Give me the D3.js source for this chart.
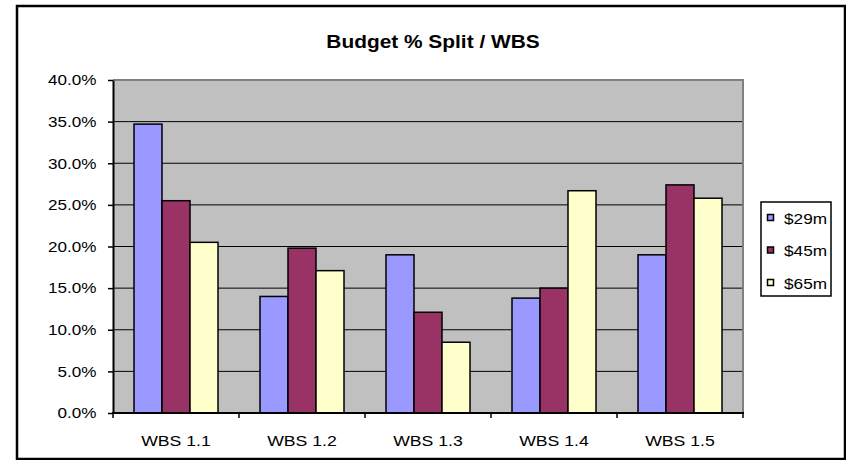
<!DOCTYPE html>
<html>
<head>
<meta charset="utf-8">
<script src="https://cdn.jsdelivr.net/npm/d3@7"></script>
<style>
  body { margin: 0; background: #fff; }
  text { font-family: "Liberation Sans", Arial, sans-serif; fill: #000; }
</style>
</head>
<body>
<svg width="846" height="460"></svg>
<script>
var categories = ["WBS 1.1", "WBS 1.2", "WBS 1.3", "WBS 1.4", "WBS 1.5"];
var seriesNames = ["$29m", "$45m", "$65m"];
var seriesColors = ["#9999ff", "#993366", "#ffffcc"];
var values29 = [0.347, 0.140, 0.190, 0.138, 0.190];
var values45 = [0.255, 0.198, 0.121, 0.150, 0.274];
var values65 = [0.205, 0.171, 0.085, 0.267, 0.258];
var yTicks = [0, 0.05, 0.1, 0.15, 0.2, 0.25, 0.3, 0.35, 0.4];

var allValues = [values29, values45, values65];
var sx = 1.14; // text in the original is stretched sideways

var svg = d3.select("svg");

var plot = { left: 113, top: 80, right: 743, bottom: 413 };

// outer frame
svg.append("rect")
    .attr("x", 17).attr("y", 6)
    .attr("width", 828).attr("height", 453)
    .attr("fill", "#fff")
    .attr("stroke", "#000")
    .attr("stroke-width", 2.5);

var x = d3.scaleBand()
    .domain(categories)
    .range([plot.left, plot.right])
    .paddingInner(0).paddingOuter(0);

var xInner = d3.scaleBand()
    .domain(seriesNames)
    .range([0, x.bandwidth()])
    .paddingInner(0).paddingOuter(0.75);

var y = d3.scaleLinear()
    .domain([0, 0.4])
    .range([plot.bottom, plot.top]);

// plot background
svg.append("rect")
    .attr("x", plot.left).attr("y", plot.top)
    .attr("width", plot.right - plot.left)
    .attr("height", plot.bottom - plot.top)
    .attr("fill", "#c0c0c0");

// gridlines
svg.append("g")
  .selectAll("line")
  .data(yTicks.filter(function(d) { return d > 0 && d < 0.4; }))
  .enter().append("line")
    .attr("x1", plot.left).attr("x2", plot.right)
    .attr("y1", function(d) { return y(d); })
    .attr("y2", function(d) { return y(d); })
    .attr("stroke", "#000")
    .attr("stroke-width", 1);

// top and right border of the plot area
svg.append("path")
    .attr("d", "M" + plot.left + "," + plot.top + "H" + plot.right + "V" + plot.bottom)
    .attr("fill", "none")
    .attr("stroke", "#808080")
    .attr("stroke-width", 2);

// bars
var rows = [];
categories.forEach(function(c, i) {
  seriesNames.forEach(function(s, j) {
    rows.push({ cat: c, series: s, color: seriesColors[j], value: allValues[j][i] });
  });
});

svg.append("g")
  .selectAll("rect")
  .data(rows)
  .enter().append("rect")
    .attr("x", function(d) { return x(d.cat) + xInner(d.series); })
    .attr("y", function(d) { return y(d.value); })
    .attr("width", xInner.bandwidth())
    .attr("height", function(d) { return y(0) - y(d.value); })
    .attr("fill", function(d) { return d.color; })
    .attr("stroke", "#000")
    .attr("stroke-width", 1.5);

// y axis
var yAxis = svg.append("g")
    .attr("transform", "translate(" + plot.left + ",0)")
    .call(d3.axisLeft(y)
        .tickValues(yTicks)
        .tickFormat(d3.format(".1%"))
        .tickSize(5)
        .tickSizeOuter(0)
        .tickPadding(9.5));
yAxis.select(".domain").attr("stroke", "#000").attr("stroke-width", 2);
yAxis.selectAll(".tick line").attr("stroke", "#000").attr("stroke-width", 1.5);
yAxis.selectAll(".tick text")
    .attr("font-family", "Liberation Sans, Arial, sans-serif")
    .attr("font-size", 15)
    .attr("fill", "#000")
    .attr("transform", "scale(" + sx + ",1)");

// x axis: labels centred, ticks on category boundaries
var xAxis = svg.append("g")
    .attr("transform", "translate(0," + plot.bottom + ")")
    .call(d3.axisBottom(x)
        .tickSize(0)
        .tickSizeOuter(0)
        .tickPadding(33));
xAxis.select(".domain").remove();
xAxis.selectAll(".tick text")
    .attr("font-family", "Liberation Sans, Arial, sans-serif")
    .attr("font-size", 15.5)
    .attr("fill", "#000")
    .attr("dy", 0)
    .attr("transform", "scale(" + sx + ",1)");

svg.append("line")
    .attr("x1", plot.left - 1).attr("x2", plot.right + 1)
    .attr("y1", plot.bottom).attr("y2", plot.bottom)
    .attr("stroke", "#000").attr("stroke-width", 2);

var bounds = categories.map(function(c) { return x(c); }).concat([plot.right]);
svg.append("g")
  .selectAll("line")
  .data(bounds)
  .enter().append("line")
    .attr("x1", function(d) { return d; }).attr("x2", function(d) { return d; })
    .attr("y1", plot.bottom).attr("y2", plot.bottom + 5)
    .attr("stroke", "#000").attr("stroke-width", 1.5);

// title
svg.append("text")
    .attr("transform", "translate(433,48) scale(1.16,1)")
    .attr("text-anchor", "middle")
    .attr("font-size", 18)
    .attr("font-weight", "bold")
    .text("Budget % Split / WBS");

// legend
var legend = svg.append("g").attr("transform", "translate(761,202)");
legend.append("rect")
    .attr("width", 70).attr("height", 94)
    .attr("fill", "#fff")
    .attr("stroke", "#000")
    .attr("stroke-width", 1.5);

var item = legend.selectAll("g.item")
  .data(seriesNames)
  .enter().append("g")
    .attr("class", "item")
    .attr("transform", function(d, i) { return "translate(0," + (16 + i * 32.5) + ")"; });

item.append("rect")
    .attr("x", 6.5).attr("y", -3.5)
    .attr("width", 6).attr("height", 6)
    .attr("fill", function(d, i) { return seriesColors[i]; })
    .attr("stroke", "#000")
    .attr("stroke-width", 1.5);

item.append("text")
    .attr("transform", "translate(23,5.5) scale(1.15,1)")
    .attr("font-size", 15)
    .text(function(d) { return d; });
</script>
</body>
</html>
